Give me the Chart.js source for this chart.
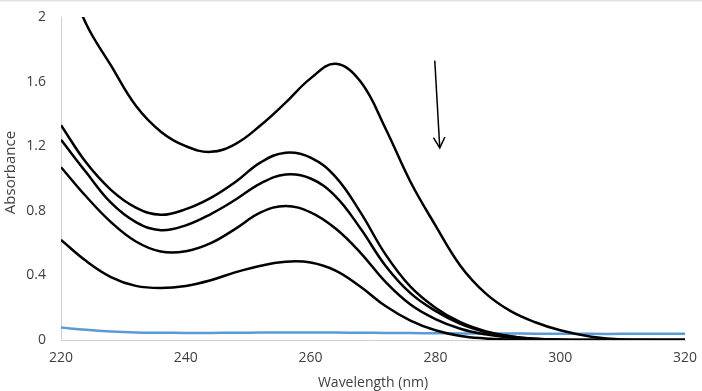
<!DOCTYPE html>
<html>
<head>
<meta charset="utf-8">
<script src="https://cdn.jsdelivr.net/npm/chart.js@4/dist/chart.umd.min.js"></script>
<style>
html,body{margin:0;padding:0;background:#fff;}
canvas{display:block;}
</style>
</head>
<body>
<canvas id="c" width="702" height="391"></canvas>
<script>
// Wavelength grid (nm)
const wavelengths = [220,224,228,232,236,240,244,248,252,256,260,264,268,272,276,280,284,288,292,296,300,305,310,320];
// Absorbance series (black curves, top to bottom) and the blue baseline
const spectrum1 = [2.35,1.96,1.70,1.45,1.29,1.20,1.165,1.215,1.33,1.47,1.62,1.71,1.60,1.31,0.98,0.71,0.46,0.29,0.18,0.11,0.06,0.02,0.003,0];
const spectrum2 = [1.33,1.10,0.93,0.82,0.775,0.81,0.88,0.98,1.10,1.16,1.13,1.01,0.79,0.53,0.33,0.20,0.11,0.055,0.024,0.008,0.002,0,0,0];
const spectrum3 = [1.24,1.04,0.85,0.73,0.68,0.71,0.78,0.87,0.97,1.025,1.00,0.89,0.69,0.46,0.29,0.18,0.10,0.05,0.021,0.007,0.002,0,0,0];
const spectrum4 = [1.07,0.89,0.73,0.61,0.548,0.55,0.60,0.69,0.79,0.83,0.79,0.69,0.54,0.36,0.22,0.13,0.07,0.035,0.014,0.004,0,0,0,0];
const spectrum5 = [0.62,0.49,0.39,0.335,0.322,0.335,0.37,0.42,0.46,0.485,0.48,0.43,0.33,0.21,0.12,0.06,0.025,0.01,0.003,0,0,0,0,0];
const baseline  = [0.077,0.063,0.053,0.047,0.045,0.044,0.044,0.045,0.046,0.047,0.047,0.046,0.045,0.044,0.043,0.042,0.041,0.040,0.040,0.039,0.039,0.038,0.038,0.038];
// Axis ticks and titles
const xTicks = {min:220, max:320, step:20};
const yTicks = {min:0, max:2, step:0.4};
const xTitle = 'Wavelength (nm)';
const yTitle = 'Absorbance';
// Arrow annotation (data units): from -> to
const arrowFrom = [279.9, 1.73];
const arrowTo = [280.7, 1.19];

const toPts = arr => wavelengths.map((w,i)=>({x:w, y:arr[i]}));
const blackSeries = [spectrum1, spectrum2, spectrum3, spectrum4, spectrum5];

const datasets = blackSeries.map(s => ({
  data: toPts(s), borderColor:'#000', borderWidth:2.5, pointRadius:0,
  tension:0.4, fill:false
}));
datasets.push({data: toPts(baseline), borderColor:'#5b9bd5', borderWidth:2.5, pointRadius:0, tension:0.4, fill:false});

const textColor = '#404040';
const fontFamily = '"Open Sans", sans-serif';

const decor = {
  id:'decor',
  afterDraw(chart){
    const ctx = chart.ctx, xs = chart.scales.x, ys = chart.scales.y;
    ctx.save();
    ctx.fillStyle = '#e0e0e0';
    ctx.fillRect(0,0,chart.width,1.5);
    // y-axis title
    ctx.fillStyle = textColor;
    ctx.font = '15px ' + fontFamily;
    ctx.textAlign = 'center'; ctx.textBaseline = 'middle';
    ctx.translate(11, (ys.top + ys.bottom)/2 - 6);
    ctx.rotate(-Math.PI/2);
    ctx.fillText(yTitle, 0, 0);
    ctx.restore();
    ctx.save();
    const x1 = xs.getPixelForValue(arrowFrom[0]), y1 = ys.getPixelForValue(arrowFrom[1]);
    const x2 = xs.getPixelForValue(arrowTo[0]), y2 = ys.getPixelForValue(arrowTo[1]);
    ctx.strokeStyle = '#000'; ctx.lineWidth = 1.5;
    ctx.beginPath(); ctx.moveTo(x1,y1); ctx.lineTo(x2,y2); ctx.stroke();
    const ang = Math.atan2(y2-y1, x2-x1), L = 12, a = 0.5;
    ctx.beginPath();
    ctx.moveTo(x2 - L*Math.cos(ang-a), y2 - L*Math.sin(ang-a));
    ctx.lineTo(x2,y2);
    ctx.lineTo(x2 - L*Math.cos(ang+a), y2 - L*Math.sin(ang+a));
    ctx.stroke();
    ctx.restore();
  }
};

const font = {family:fontFamily, size:14};
new Chart(document.getElementById('c'), {
  type:'line',
  data:{datasets},
  options:{
    responsive:false, animation:false, devicePixelRatio:1,
    layout:{padding:{top:17, right:17, left:0, bottom:0}},
    plugins:{legend:{display:false}, tooltip:{enabled:false}},
    scales:{
      x:{type:'linear', min:xTicks.min, max:xTicks.max,
        ticks:{stepSize:xTicks.step, color:textColor, font, padding:10, maxRotation:0},
        grid:{display:false, drawTicks:false},
        border:{display:true, color:'#d0d0d0', width:1},
        title:{display:true, text:xTitle, color:textColor, font, padding:{top:0,bottom:0}},
        afterFit(s){ s.height = 51; s.paddingLeft = 0; s.paddingRight = 0; }
      },
      y:{type:'linear', min:yTicks.min, max:yTicks.max,
        ticks:{stepSize:yTicks.step, color:textColor, font, padding:15,
          callback:v => String(Number(v.toFixed(1)))},
        grid:{display:false, drawTicks:false},
        border:{display:true, color:'#d0d0d0', width:1},
        title:{display:false, text:yTitle},
        afterFit(s){ s.width = 61; s.paddingTop = 0; s.paddingBottom = 0; }
      }
    }
  },
  plugins:[decor]
});
</script>
</body>
</html>
